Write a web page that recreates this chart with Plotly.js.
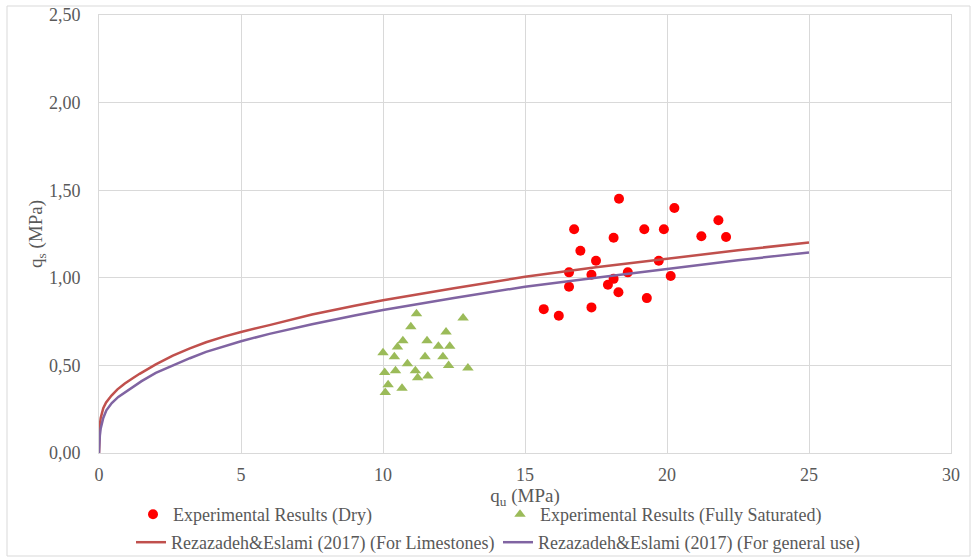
<!DOCTYPE html>
<html>
<head>
<meta charset="utf-8">
<script src="https://cdn.plot.ly/plotly-3.0.1.min.js"></script>
<style>
html,body{margin:0;padding:0;background:#fff;}
#chart{width:977px;height:560px;}
</style>
</head>
<body>
<div id="chart"></div>
<script>
// Experimental Results (Dry)
var dryQu = [18.31, 20.26, 21.81, 16.73, 19.20, 19.89, 18.12, 21.21, 22.08, 16.95, 17.50, 19.71,
             16.55, 17.34, 18.62, 18.12, 17.92, 20.13, 16.55, 18.29, 19.29, 15.66, 16.19, 17.34];
var dryQs = [1.451, 1.398, 1.328, 1.277, 1.277, 1.277, 1.229, 1.237, 1.233, 1.154, 1.097, 1.097,
             1.031, 1.017, 1.031, 0.994, 0.960, 1.010, 0.949, 0.918, 0.884, 0.821, 0.783, 0.831];

// Experimental Results (Fully Saturated)
var satQu = [11.18, 12.82, 10.98, 12.22, 10.70, 11.55, 10.51, 11.95, 12.35, 10.00, 10.40, 11.48,
             12.11, 10.86, 12.31, 12.99, 10.06, 10.44, 11.14, 11.22, 11.58, 10.18, 10.67, 10.08];
var satQs = [0.795, 0.770, 0.720, 0.690, 0.640, 0.640, 0.605, 0.610, 0.610, 0.572, 0.550, 0.550,
             0.550, 0.510, 0.500, 0.485, 0.460, 0.470, 0.470, 0.430, 0.440, 0.390, 0.370, 0.345];

// Rezazadeh&Eslami (2017) (For Limestones)
var limeQu = [0, 0.005, 0.01, 0.03, 0.06, 0.1, 0.15, 0.25, 0.44, 0.65, 0.91, 1.2, 1.43, 2, 2.6, 3.2, 3.77, 4.4, 5,
              6, 7.5, 9, 10, 12.5, 15, 17.5, 20, 22.5, 25];
var limeQs = [0, 0.08, 0.11, 0.16, 0.2, 0.232, 0.256, 0.288, 0.328, 0.363, 0.397, 0.428, 0.452, 0.506, 0.556, 0.597, 0.632, 0.664, 0.691,
              0.73, 0.79, 0.84, 0.872, 0.94, 1.006, 1.06, 1.109, 1.157, 1.202];

// Rezazadeh&Eslami (2017) (For general use)
var genQu = [0, 0.005, 0.01, 0.03, 0.06, 0.09, 0.15, 0.26, 0.45, 0.68, 1.0, 1.5, 2, 2.6, 3.2, 3.77, 4.4, 5,
             6, 7.5, 9, 10, 12.5, 15, 17.5, 20, 22.5, 25];
var genQs = [0, 0.04, 0.06, 0.1, 0.14, 0.168, 0.2, 0.244, 0.285, 0.32, 0.357, 0.41, 0.457, 0.501, 0.541, 0.577, 0.61, 0.638,
             0.68, 0.735, 0.785, 0.816, 0.885, 0.949, 1.0, 1.05, 1.10, 1.145];

var xTicks = [0, 5, 10, 15, 20, 25, 30];
var yTicks = [0, 0.5, 1.0, 1.5, 2.0, 2.5];

var txt = '#595959';
var grid = '#d9d9d9';
var fontFam = '"Liberation Serif", "DejaVu Serif", serif';

var traces = [
  {x: dryQu, y: dryQs, type: 'scatter', mode: 'markers', name: 'Experimental Results (Dry)', legend: 'legend',
   marker: {color: '#FF0000', size: 10, symbol: 'circle'}},
  {x: satQu, y: satQs, type: 'scatter', mode: 'markers', name: 'Experimental Results (Fully Saturated)', legend: 'legend',
   marker: {color: '#9BBB59', size: 10, symbol: 'triangle-up'}},
  {x: limeQu, y: limeQs, type: 'scatter', mode: 'lines', name: 'Rezazadeh&Eslami (2017) (For Limestones)', legend: 'legend2',
   line: {color: '#C0504D', width: 2.5}},
  {x: genQu, y: genQs, type: 'scatter', mode: 'lines', name: 'Rezazadeh&Eslami (2017) (For general use)', legend: 'legend2',
   line: {color: '#8064A2', width: 2.5}}
];

var L = 99, R = 26, T = 15, B = 107;
var W = 977, H = 560;
var pw = W - L - R, ph = H - T - B;
function px(xp){ return (xp - L) / pw; }
function py(yp){ return (H - B - yp) / ph; }

var legFont = {family: fontFam, size: 18, color: txt};

var layout = {
  width: W, height: H,
  margin: {l: L, r: R, t: T, b: B, autoexpand: false},
  paper_bgcolor: '#ffffff', plot_bgcolor: '#ffffff',
  separators: ', ',
  font: {family: fontFam, color: txt, size: 18},
  showlegend: true,
  xaxis: {
    range: [0, 30], tickvals: xTicks, ticktext: xTicks.map(String),
    showgrid: true, gridcolor: grid, gridwidth: 1, zeroline: false,
    showline: true, linecolor: grid, linewidth: 1, mirror: true,
    ticks: '', ticklabelstandoff: 5,
    tickfont: {family: fontFam, size: 18, color: txt},
    title: {text: 'q<sub>u</sub> (MPa)', font: {family: fontFam, size: 19, color: txt}, standoff: 4},
    fixedrange: true
  },
  yaxis: {
    range: [0, 2.5], tickvals: yTicks, tickformat: '.2f',
    showgrid: true, gridcolor: grid, gridwidth: 1, zeroline: false,
    showline: true, linecolor: grid, linewidth: 1, mirror: true,
    ticks: '', ticklabelstandoff: 14,
    tickfont: {family: fontFam, size: 18, color: txt},
    title: {text: 'q<sub>s</sub> (MPa)', font: {family: fontFam, size: 19, color: txt}, standoff: 0},
    fixedrange: true
  },
  legend: {
    orientation: 'h', x: px(133), xanchor: 'left', y: py(496), yanchor: 'top',
    entrywidth: 322, entrywidthmode: 'pixels',
    font: legFont, bgcolor: 'rgba(0,0,0,0)', borderwidth: 0
  },
  legend2: {
    orientation: 'h', x: px(131), xanchor: 'left', y: py(524), yanchor: 'top',
    entrywidth: 322, entrywidthmode: 'pixels',
    font: legFont, bgcolor: 'rgba(0,0,0,0)', borderwidth: 0
  },
  shapes: [
    {type: 'rect', xref: 'paper', yref: 'paper', x0: px(7), x1: px(970), y0: py(556), y1: py(6),
     line: {color: grid, width: 1}, fillcolor: 'rgba(0,0,0,0)', layer: 'below'}
  ]
};

Plotly.newPlot('chart', traces, layout, {displayModeBar: false, staticPlot: true});
</script>
</body>
</html>
